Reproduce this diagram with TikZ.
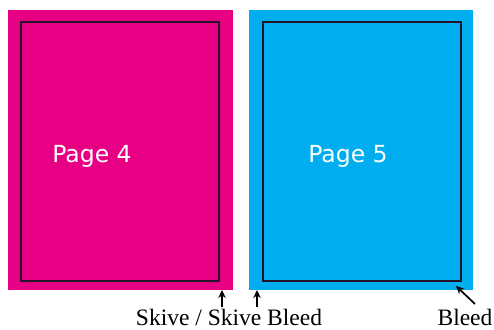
\documentclass[tikz,border=0pt]{standalone}
\usepackage{fontspec}
\setmainfont{Liberation Serif}
\newfontfamily\pagefont{DejaVu Sans}
\usepackage{xcolor}
\usepackage{tikz}
\usetikzlibrary{positioning,arrows.meta}
\definecolor{PageMagenta}{RGB}{231,0,132}
\definecolor{PageCyan}{RGB}{0,173,238}
\definecolor{TrimLine}{RGB}{35,20,40}

\begin{document}
\begin{tikzpicture}[x=1pt, y=1pt,
  page/.style={draw=none, inner sep=0pt, minimum width=225pt, minimum height=280pt},
  trim/.style={draw=TrimLine, line width=1.9pt, inner sep=0pt, minimum width=198pt, minimum height=259pt},
  pagelabel/.style={font=\pagefont\fontsize{23.5}{26}\selectfont, text=white},
  note/.style={font=\fontsize{23.5}{26}\selectfont, anchor=base, inner sep=0pt},
  pointer/.style={draw=black, line width=1.7pt, -{Stealth[length=8pt, width=7.5pt]}}
]
\useasboundingbox (0,0) rectangle (494,329);

\node[page, fill=PageMagenta] (pfour) at (120.5,179) {};
\node[page, fill=PageCyan, minimum width=224pt] (pfive) at (361,179) {};
\node[trim] (tfour) at (120,177.5) {};
\node[trim] (tfive) at (362,177.5) {};

\node[pagelabel] (lfour) at (92,173) {Page 4};
\node[pagelabel] (lfive) at (348,173) {Page 5};

\node[note] (skive) at (229,4) {Skive / Skive Bleed};
\node[note] (bleed) at (465,4) {Bleed};

\coordinate (skivea) at (222,22);
\coordinate (skiveb) at (257,22);
\coordinate (bleedtail) at (475,25);
\coordinate (edgefour) at (222,39);
\coordinate (edgefive) at (257,39);
\coordinate (cornerfive) at (456,43);

\draw[pointer] (skivea) -- (edgefour);
\draw[pointer] (skiveb) -- (edgefive);
\draw[pointer] (bleedtail) -- (cornerfive);
\end{tikzpicture}
\end{document}
